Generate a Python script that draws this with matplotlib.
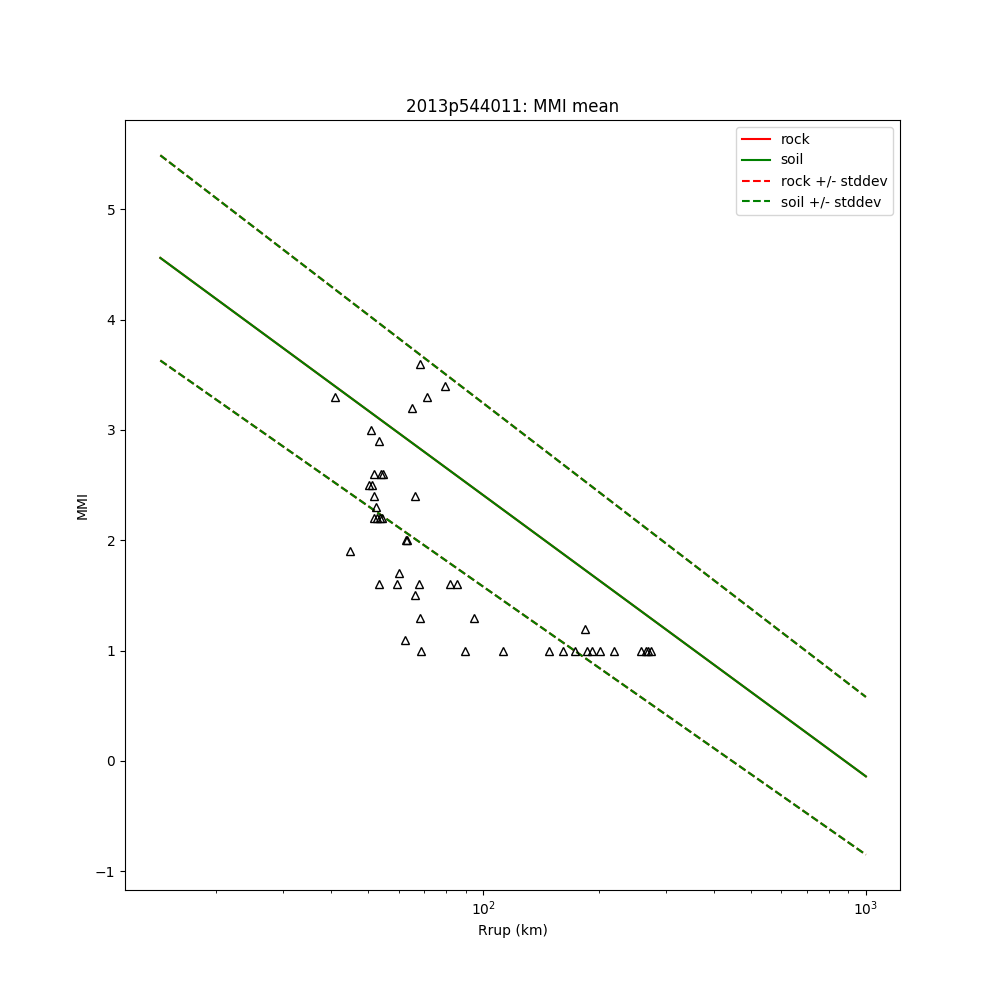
import matplotlib
matplotlib.use('Agg')
import matplotlib.pyplot as plt
import numpy as np

# model curve endpoints (distance km, MMI)
line_dist = [14.3, 1000.0]
mean_mmi = [4.56, -0.14]
plus_mmi = [5.49, 0.58]
minus_mmi = [3.63, -0.85]

# observations
obs_dist = [41.0, 50.9, 53.4, 51.9, 54.1, 54.7, 50.3, 51.2, 51.9, 52.5,
            51.9, 52.8, 53.8, 54.4, 44.9, 62.9, 63.2, 66.4, 65.2, 68.4,
            71.4, 79.5, 53.4, 59.6, 68.0, 82.0, 85.5, 60.3, 66.4, 68.4,
            94.7, 62.5, 68.8, 89.7, 112.8, 148, 161, 174, 187, 192,
            202, 219, 259, 266, 270, 274, 184]
obs_mmi = [3.3, 3.0, 2.9, 2.6, 2.6, 2.6, 2.5, 2.5, 2.4, 2.3,
           2.2, 2.2, 2.2, 2.2, 1.9, 2.0, 2.0, 2.4, 3.2, 3.6,
           3.3, 3.4, 1.6, 1.6, 1.6, 1.6, 1.6, 1.7, 1.5, 1.3,
           1.3, 1.1, 1.0, 1.0, 1.0, 1.0, 1.0, 1.0, 1.0, 1.0,
           1.0, 1.0, 1.0, 1.0, 1.0, 1.0, 1.2]

fig, ax = plt.subplots(figsize=(10, 10), dpi=100)
ax.plot(line_dist, mean_mmi, color='r', label='rock')
ax.plot(line_dist, mean_mmi, color='g', label='soil')
ax.plot(line_dist, plus_mmi, color='r', ls='--', label='rock +/- stddev')
ax.plot(line_dist, minus_mmi, color='r', ls='--')
ax.plot(line_dist, plus_mmi, color='g', ls='--', label='soil +/- stddev')
ax.plot(line_dist, minus_mmi, color='g', ls='--')
ax.plot(obs_dist, obs_mmi, '^', mfc='none', mec='k', ls='none')
ax.set_xscale('log')
ax.set_xlim(11.56, 1228)
ax.set_ylim(-1.17, 5.81)
ax.set_xlabel('Rrup (km)')
ax.set_ylabel('MMI')
ax.set_title('2013p544011: MMI mean')
ax.legend(loc='upper right')
fig.savefig('out.png')
